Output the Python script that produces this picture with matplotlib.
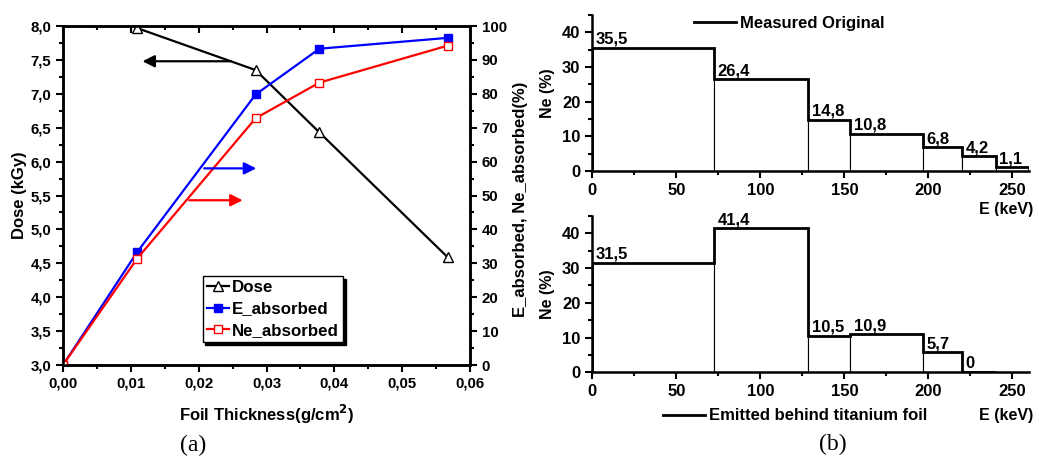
import numpy as np
import matplotlib.pyplot as plt
from matplotlib.ticker import FuncFormatter, MultipleLocator

plt.rcParams['font.family'] = ['Liberation Sans', 'DejaVu Sans']
plt.rcParams['font.weight'] = 'bold'
plt.rcParams['axes.labelweight'] = 'bold'

# ---- panel (a) data ----
thickness = [0.0, 0.0109, 0.0284, 0.0378, 0.0567]
dose_x = [0.0109, 0.0284, 0.0378, 0.0567]
dose = [7.97, 7.35, 6.43, 4.59]
e_absorbed = [0, 33.2, 79.8, 93.3, 96.5]
ne_absorbed = [0, 31.3, 72.8, 83.3, 94.2]

# ---- panel (b) data ----
edges_orig = [0, 72.5, 128.5, 153.5, 197, 220, 240, 260]
ne_orig = [35.5, 26.4, 14.8, 10.8, 6.8, 4.2, 1.1]
edges_emit = [0, 72.5, 128.5, 153.5, 197, 220, 240]
ne_emit = [31.5, 41.4, 10.5, 10.9, 5.7, 0]

W, H = 1039, 458
fig = plt.figure(figsize=(W / 100, H / 100), dpi=100)


def fax(l, t, r, b):
    return fig.add_axes([l / W, 1 - b / H, (r - l) / W, (b - t) / H])


# ================= (a) =================
ax = fax(63, 26, 470, 365)
ax2 = ax.twinx()
ax.set_xlim(0, 0.06)
ax.set_ylim(3.0, 8.0)
ax2.set_ylim(0, 100)

lw = 1.6
ax.plot(dose_x, dose, color='k', lw=lw, marker='^', mfc='white', mec='k', ms=7, label='Dose', zorder=3)
ax2.plot(thickness, e_absorbed, color='blue', lw=lw, marker='s', mfc='blue', mec='blue', ms=5.5, label='E_absorbed')
ax2.plot(thickness, ne_absorbed, color='red', lw=lw, marker='s', mfc='white', mec='red', ms=5.5, label='Ne_absorbed')

# direction arrows
ax.annotate('', xy=(0.0113, 7.48), xytext=(0.0251, 7.48),
            arrowprops=dict(arrowstyle='-|>', color='k', lw=1.6, mutation_scale=18))
ax2.annotate('', xy=(0.0289, 58), xytext=(0.0204, 58),
             arrowprops=dict(arrowstyle='-|>', color='blue', lw=1.6, mutation_scale=18))
ax2.annotate('', xy=(0.0269, 48.6), xytext=(0.0182, 48.6),
             arrowprops=dict(arrowstyle='-|>', color='red', lw=1.6, mutation_scale=18))

ax.xaxis.set_major_locator(MultipleLocator(0.01))
ax.xaxis.set_minor_locator(MultipleLocator(0.005))
ax.yaxis.set_major_locator(MultipleLocator(0.5))
ax.yaxis.set_minor_locator(MultipleLocator(0.25))
ax2.yaxis.set_major_locator(MultipleLocator(10))
ax2.yaxis.set_minor_locator(MultipleLocator(5))
ax.xaxis.set_major_formatter(FuncFormatter(lambda v, p: f"{v:.2f}".replace('.', ',')))
ax.yaxis.set_major_formatter(FuncFormatter(lambda v, p: f"{v:.1f}".replace('.', ',')))

ax.tick_params(axis='both', which='both', direction='out', width=1.5, labelsize=10.8)
ax.tick_params(which='major', length=5)
ax.tick_params(which='minor', length=3)
ax.tick_params(axis='x', which='both', top=False)
ax2.tick_params(axis='y', which='both', direction='out', width=1.5, labelsize=10.8)
ax2.tick_params(which='major', length=5)
ax2.tick_params(which='minor', length=3)
# top ticks point inward
ax2.xaxis.set_visible(True)
ax2.tick_params(axis='x', which='both', top=True, bottom=False, labeltop=False,
                labelbottom=False, direction='in', width=1.5)
ax2.tick_params(axis='x', which='major', length=5)
ax2.tick_params(axis='x', which='minor', length=3)
for a in (ax, ax2):
    for s in a.spines.values():
        s.set_linewidth(1.8)

ax.set_xlabel(r'Foil Thickness(g/cm$^\mathbf{2}$)', fontsize=12)
ax.xaxis.set_label_coords(0.50, -0.112)
ax.set_ylabel('Dose (kGy)', fontsize=12)
ax.yaxis.set_label_coords(-0.088, 0.50)
ax2.set_ylabel('E_absorbed, Ne_absorbed(%)', fontsize=12)
ax2.yaxis.set_label_coords(1.105, 0.49)

h1, l1 = ax.get_legend_handles_labels()
h2, l2 = ax2.get_legend_handles_labels()
leg = ax2.legend(h1 + h2, l1 + l2, loc='upper left', bbox_to_anchor=(0.343, 0.263),
                 fontsize=12.2, handlelength=1.3, handletextpad=0.2, labelspacing=0.38,
                 borderpad=0.25, borderaxespad=0, fancybox=False, framealpha=1,
                 edgecolor='k', shadow={'color': 'k', 'alpha': 1})
leg.get_frame().set_linewidth(1.0)

fig.text(193 / W, 1 - 445 / H, '(a)', family='Liberation Serif', fontweight='normal',
         fontsize=17, ha='center', va='center')


# ================= (b) =================
def hist_panel(a, edges, vals, label, leg_x, leg_y, xl_y):
    widths = np.diff(edges)
    a.bar(edges[:-1], vals, width=widths, align='edge', facecolor='white',
          edgecolor='k', linewidth=0.8)
    a.stairs(vals, edges, baseline=0, color='k', lw=2.0)
    for x0, v in zip(edges[:-1], vals):
        a.text(x0 + 2, v + 0.3, f"{v:g}".replace('.', ','), fontsize=12,
               ha='left', va='bottom', clip_on=False)
    a.set_xlim(0, 260)
    a.set_ylim(0, 45)
    a.spines['top'].set_visible(False)
    a.spines['right'].set_visible(False)
    for s in ('left', 'bottom'):
        a.spines[s].set_linewidth(1.8)
    a.xaxis.set_major_locator(MultipleLocator(50))
    a.xaxis.set_minor_locator(MultipleLocator(25))
    a.yaxis.set_major_locator(MultipleLocator(10))
    a.yaxis.set_minor_locator(MultipleLocator(5))
    a.tick_params(which='both', direction='out', width=1.5, labelsize=12)
    a.tick_params(which='major', length=5)
    a.tick_params(which='minor', length=3)
    a.set_ylabel('Ne (%)', fontsize=11.5)
    a.yaxis.set_label_coords(-0.085, 0.5)
    a.set_xlabel('E (keV)', fontsize=11.5, ha='right', va='center')
    a.xaxis.set_label_coords(1.0085, xl_y)
    a.plot([], [], color='k', lw=2, label=label)
    a.legend(loc='center left', bbox_to_anchor=(leg_x, leg_y), bbox_transform=fig.transFigure,
             frameon=False, fontsize=12, handlelength=2.5, handletextpad=0.25,
             borderpad=0, borderaxespad=0)


bt = fax(592.3, 15, 1029.3, 171)
hist_panel(bt, edges_orig, ne_orig, 'Measured Original', 694 / W, 1 - 23.3 / H, -0.245)
bb = fax(592.3, 215.7, 1029.3, 372.3)
hist_panel(bb, edges_emit, ne_emit, 'Emitted behind titanium foil', 663 / W, 1 - 416 / H, -0.279)

fig.text(833 / W, 1 - 444 / H, '(b)', family='Liberation Serif', fontweight='normal',
         fontsize=17, ha='center', va='center')

fig.savefig('out.png', dpi=100)
